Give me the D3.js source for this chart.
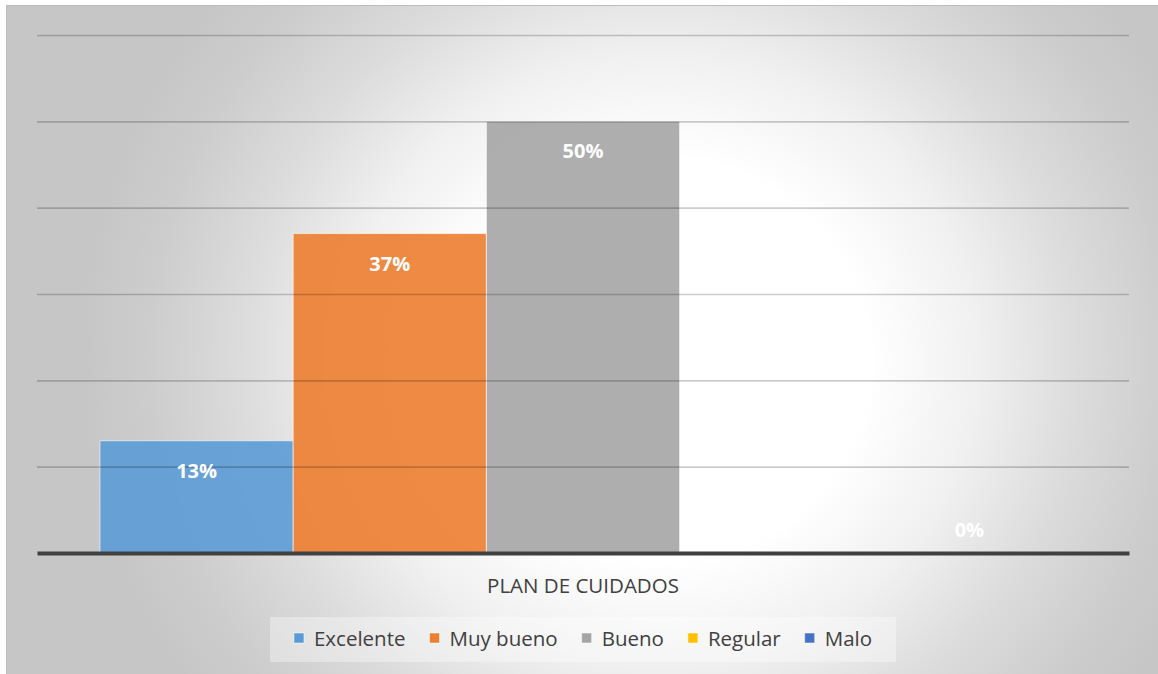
<!DOCTYPE html>
<html>
<head>
<meta charset="utf-8">
<script src="https://cdn.jsdelivr.net/npm/d3@7"></script>
<style>
  html, body { margin: 0; padding: 0; background: #ffffff; }
  svg { display: block; }
</style>
</head>
<body>
<svg id="chart" width="1158" height="674"></svg>
<script>
// Evaluation of the care plan, share of answers per rating
const category = "PLAN DE CUIDADOS";
const seriesNames = ["Excelente", "Muy bueno", "Bueno", "Regular", "Malo"];
const seriesValues = [0.13, 0.37, 0.50, 0.00, 0.00];
const seriesLabels = ["13%", "37%", "50%", "0%", "0%"];
const seriesColors = ["#5B9BD5", "#ED7D31", "#A5A5A5", "#FFC000", "#4472C4"];
const gridTicks = [0.1, 0.2, 0.3, 0.4, 0.5, 0.6];

const W = 1158, H = 674;
const svg = d3.select("#chart");
const font = "'Open Sans', 'Noto Sans', sans-serif";

// Chart area background: soft radial fill, white towards the middle
const defs = svg.append("defs");
const grad = defs.append("radialGradient")
  .attr("id", "bgGrad")
  .attr("gradientUnits", "userSpaceOnUse")
  .attr("cx", 0).attr("cy", 0).attr("r", 1)
  .attr("gradientTransform", "translate(660,360) scale(580,560)");
[[0, "#ffffff"], [0.36, "#ffffff"], [0.55, "#f0f0f0"], [0.72, "#dcdcdc"], [0.88, "#cdcdcd"], [1, "#c6c6c6"]]
  .forEach(([o, c]) => grad.append("stop").attr("offset", o).attr("stop-color", c));

svg.append("rect")
  .attr("x", 6.5).attr("y", 5.5)
  .attr("width", W).attr("height", H)
  .attr("fill", "url(#bgGrad)")
  .attr("stroke", "#bdbdbd").attr("stroke-width", 1);

// Plot area
const plot = { left: 37, right: 1129, top: 35, bottom: 553 };

const x = d3.scaleBand()
  .domain(seriesNames)
  .range([plot.left, plot.right])
  .paddingInner(0)
  .paddingOuter(0.326);

const y = d3.scaleLinear()
  .domain([0, 0.6])
  .range([plot.bottom, plot.top]);

const data = seriesNames.map((name, i) => ({
  name, value: seriesValues[i], label: seriesLabels[i], color: seriesColors[i]
}));

// Bars
svg.append("g")
  .selectAll("rect")
  .data(data)
  .join("rect")
  .attr("x", d => x(d.name))
  .attr("y", d => y(d.value))
  .attr("width", x.bandwidth())
  .attr("height", d => y(0) - y(d.value))
  .attr("fill", d => d.color)
  .attr("fill-opacity", 0.9)
  .attr("stroke", "rgba(255,255,255,0.6)")
  .attr("stroke-width", 1);

// Horizontal gridlines
const yAxis = d3.axisLeft(y)
  .tickValues(gridTicks)
  .tickSize(-(plot.right - plot.left))
  .tickFormat("");
const gridG = svg.append("g")
  .attr("transform", `translate(${plot.left},0)`)
  .call(yAxis);
gridG.select(".domain").remove();
gridG.selectAll(".tick line")
  .attr("stroke", "#000")
  .attr("stroke-opacity", 0.2)
  .attr("stroke-width", 1.6);

// Category axis line
const xAxisG = svg.append("g")
  .attr("transform", `translate(0,${plot.bottom})`)
  .call(d3.axisBottom(x).tickSize(0).tickFormat(""));
xAxisG.select(".domain")
  .attr("stroke", "#404040")
  .attr("stroke-width", 4);

// Value labels
svg.append("g")
  .selectAll("text")
  .data(data)
  .join("text")
  .attr("x", d => x(d.name) + x.bandwidth() / 2)
  .attr("y", d => d.value > 0 ? y(d.value) + 37 : y(0) - 16)
  .attr("text-anchor", "middle")
  .attr("font-family", font)
  .attr("font-weight", "bold")
  .attr("font-size", 20)
  .attr("fill", "#ffffff")
  .text(d => d.label);

// Category title under the axis
svg.append("text")
  .attr("x", (plot.left + plot.right) / 2)
  .attr("y", 593)
  .attr("text-anchor", "middle")
  .attr("font-family", font)
  .attr("font-size", 20.5)
  .attr("fill", "#404040")
  .text(category);

// Legend
const legendG = svg.append("g");
const legendBox = legendG.append("rect")
  .attr("fill", "#ffffff")
  .attr("fill-opacity", 0.35);
const items = legendG.selectAll("g.item")
  .data(data)
  .join("g")
  .attr("class", "item");
items.append("rect")
  .attr("width", 10).attr("height", 10)
  .attr("y", -13)
  .attr("fill", d => d.color)
  .attr("stroke", "rgba(255,255,255,0.5)")
  .attr("stroke-width", 1);
items.append("text")
  .attr("x", 20)
  .attr("y", 0)
  .attr("font-family", font)
  .attr("font-size", 20.5)
  .attr("fill", "#404040")
  .text(d => d.name);

let cursor = 0;
const widths = [];
items.each(function () {
  const tw = d3.select(this).select("text").node().getComputedTextLength();
  widths.push(20 + tw);
});
const itemGap = 24;
const total = d3.sum(widths) + itemGap * (widths.length - 1);
const startX = (plot.left + plot.right) / 2 - total / 2;
items.attr("transform", (d, i) => {
  const tx = startX + cursor;
  cursor += widths[i] + itemGap;
  return `translate(${tx},646)`;
});
legendBox
  .attr("x", startX - 24)
  .attr("y", 617)
  .attr("width", total + 48)
  .attr("height", 45);
</script>
</body>
</html>
